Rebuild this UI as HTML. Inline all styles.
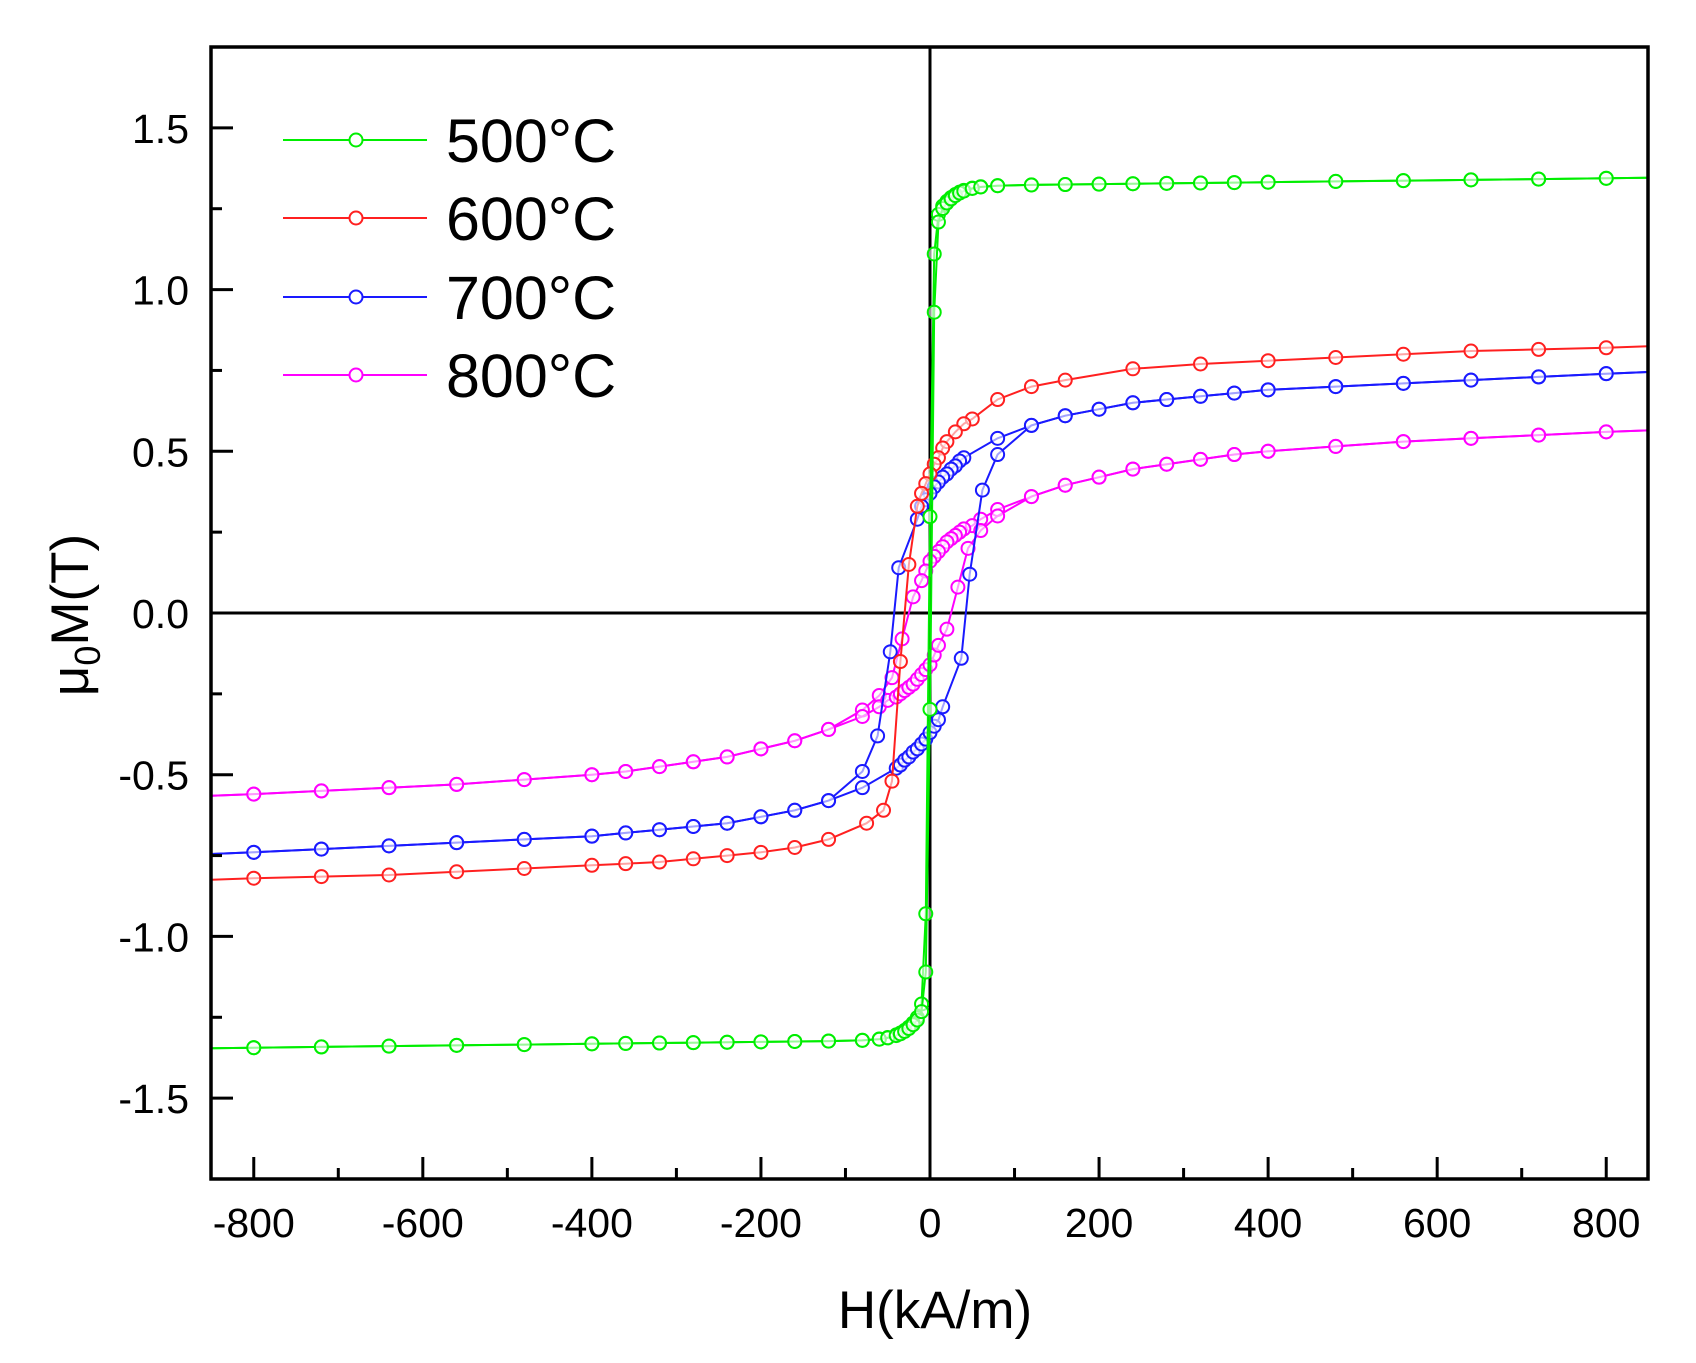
<!DOCTYPE html>
<html><head><meta charset="utf-8"><style>
html,body{margin:0;padding:0;background:#fff;}
svg{display:block;font-family:"Liberation Sans",Arial,sans-serif;}
</style></head><body>
<svg id="s" width="1696" height="1363" viewBox="0 0 1696 1363" xmlns="http://www.w3.org/2000/svg">
<rect width="1696" height="1363" fill="#fff"/>
<defs><clipPath id="c"><rect x="211" y="47" width="1437" height="1132"/></clipPath></defs>
<g id="axes"></g>
<g id="data" clip-path="url(#c)"></g>
<rect x="211" y="47" width="1437" height="1132" fill="none" stroke="#000" stroke-width="3.5"/>
<g id="ticks"></g>
<text x="935" y="1328" font-size="53" text-anchor="middle">H(kA/m)</text>
<text transform="translate(88,615) rotate(-90)" font-size="53" text-anchor="middle">μ<tspan font-size="36" dy="12">0</tspan><tspan dy="-12">M(T)</tspan></text>
<g font-size="61">
<line x1="283" y1="140" x2="427" y2="140" stroke="#00ee00" stroke-width="2"/><circle cx="356" cy="140" r="6.5" fill="#fff" stroke="#00ee00" stroke-width="2"/><text x="446" y="162">500°C</text>
<line x1="283" y1="218" x2="427" y2="218" stroke="#ff2020" stroke-width="2"/><circle cx="356" cy="218" r="6.5" fill="#fff" stroke="#ff2020" stroke-width="2"/><text x="446" y="240">600°C</text>
<line x1="283" y1="297" x2="427" y2="297" stroke="#1a1aff" stroke-width="2"/><circle cx="356" cy="297" r="6.5" fill="#fff" stroke="#1a1aff" stroke-width="2"/><text x="446" y="319">700°C</text>
<line x1="283" y1="375" x2="427" y2="375" stroke="#ff00ff" stroke-width="2"/><circle cx="356" cy="375" r="6.5" fill="#fff" stroke="#ff00ff" stroke-width="2"/><text x="446" y="397">800°C</text>
</g>
</svg>
<script>
var NS="http://www.w3.org/2000/svg";
var X0=930,KX=1437/1700,Y0=613,KY=1132/3.5;
function px(h){return X0+h*KX;} function py(m){return Y0-m*KY;}
function el(p,t,a,txt){var e=document.createElementNS(NS,t);for(var k in a)e.setAttribute(k,a[k]);if(txt!==undefined)e.textContent=txt;p.appendChild(e);return e;}
var ax=document.getElementById("axes"),tk=document.getElementById("ticks"),dg=document.getElementById("data");
el(ax,"line",{x1:211,x2:1648,y1:py(0),y2:py(0),stroke:"#000","stroke-width":3});
el(ax,"line",{x1:px(0),x2:px(0),y1:47,y2:1179,stroke:"#000","stroke-width":3});
for(var h=-800;h<=800;h+=100){var maj=(h%200===0);var x=px(h);
 el(tk,"line",{x1:x,x2:x,y1:1179,y2:1179-(maj?22:11),stroke:"#000","stroke-width":3});
 if(maj)el(tk,"text",{x:x,y:1237,"font-size":41,"text-anchor":"middle"},(h<0?"-":"")+Math.abs(h));}
for(var i=-6;i<=6;i++){var m=i*0.25;var y=py(m);var maj=(i%2===0);
 el(tk,"line",{x1:211,x2:211+(maj?22:11),y1:y,y2:y,stroke:"#000","stroke-width":3});
 if(maj)el(tk,"text",{x:189,y:y+15,"font-size":41,"text-anchor":"end"},(m<0?"-":"")+Math.abs(m).toFixed(1));}
var th=Math.tanh;
function draw(pts,col){
 var d="";pts.forEach(function(p,i){d+=(i?"L":"M")+px(p[0]).toFixed(1)+","+py(p[1]).toFixed(1);});
 el(dg,"path",{d:d,fill:"none",stroke:col,"stroke-width":2});
 pts.forEach(function(p){if(Math.abs(p[0])<850)el(dg,"circle",{cx:px(p[0]),cy:py(p[1]),r:6.5,fill:"#fff","fill-opacity":0.6,stroke:col,"stroke-width":2});});
}
function mirrorLoop(up,col){
 draw(up,col);
 var lo=up.map(function(p){return [-p[0],-p[1]];});
 draw(lo,col);
}
var tail=[[850,0],[800,0],[720,0],[640,0],[560,0],[480,0],[400,0],[360,0],[320,0],[280,0],[240,0],[200,0],[160,0],[120,0]];
var mag=[[850,0.565],[800,0.56],[720,0.55],[640,0.54],[560,0.53],[480,0.515],[400,0.50],[360,0.49],[320,0.475],[280,0.46],[240,0.445],[200,0.42],[160,0.395],[120,0.36],[80,0.32],[60,0.29],[50,0.27],[40,0.26],[35,0.25],[30,0.24],[25,0.23],[20,0.22],[15,0.205],[10,0.19],[5,0.175],[0,0.16],[-5,0.13],[-10,0.10],[-20,0.05],[-33,-0.08],[-45,-0.20],[-60,-0.255],[-80,-0.30],[-120,-0.36],[-160,-0.395],[-200,-0.42],[-240,-0.445],[-280,-0.46],[-320,-0.475],[-360,-0.49],[-400,-0.50],[-480,-0.515],[-560,-0.53],[-640,-0.54],[-720,-0.55],[-800,-0.56],[-850,-0.565]];
mirrorLoop(mag,"#ff00ff");
var blu=[[850,0.745],[800,0.74],[720,0.73],[640,0.72],[560,0.71],[480,0.70],[400,0.69],[360,0.68],[320,0.67],[280,0.66],[240,0.65],[200,0.63],[160,0.61],[120,0.58],[80,0.54],[40,0.48],[35,0.47],[30,0.455],[25,0.445],[20,0.43],[15,0.42],[10,0.405],[5,0.39],[0,0.37],[-5,0.35],[-10,0.33],[-15,0.29],[-37,0.14],[-47,-0.12],[-62,-0.38],[-80,-0.49],[-120,-0.58],[-160,-0.61],[-200,-0.63],[-240,-0.65],[-280,-0.66],[-320,-0.67],[-360,-0.68],[-400,-0.69],[-480,-0.70],[-560,-0.71],[-640,-0.72],[-720,-0.73],[-800,-0.74],[-850,-0.745]];
mirrorLoop(blu,"#1a1aff");
var red=[[850,0.825],[800,0.82],[720,0.815],[640,0.81],[560,0.80],[480,0.79],[400,0.78],[320,0.77],[240,0.755],[160,0.72],[120,0.70],[80,0.66],[50,0.60],[40,0.585],[30,0.56],[20,0.53],[15,0.51],[10,0.48],[5,0.46],[0,0.43],[-5,0.40],[-10,0.37],[-15,0.33],[-25,0.15],[-35,-0.15],[-45,-0.52],[-55,-0.61],[-75,-0.65],[-120,-0.70],[-160,-0.725],[-200,-0.74],[-240,-0.75],[-280,-0.76],[-320,-0.77],[-360,-0.775],[-400,-0.78],[-480,-0.79],[-560,-0.80],[-640,-0.81],[-720,-0.815],[-800,-0.82],[-850,-0.825]];
draw(red,"#ff2020");
var HS=[800,720,640,560,480,400,360,320,280,240,200,160,120,80,60,50,40,35,30,25,20,15,10,5,0];
var Hlist=[850].concat(HS).concat(HS.slice(0,-1).reverse().map(function(v){return -v;})).concat([-850]);
(function(){
 var f=function(h){return 1.2*th(h/4)+0.12*th(h/30)+0.00003*h;};
 var up=Hlist.map(function(h){return [h,f(h+1)];});
 var lo=Hlist.slice().reverse().map(function(h){return [h,f(h-1)];});
 draw(up,"#00ee00");draw(lo,"#00ee00");
})();
</script>
</body></html>
